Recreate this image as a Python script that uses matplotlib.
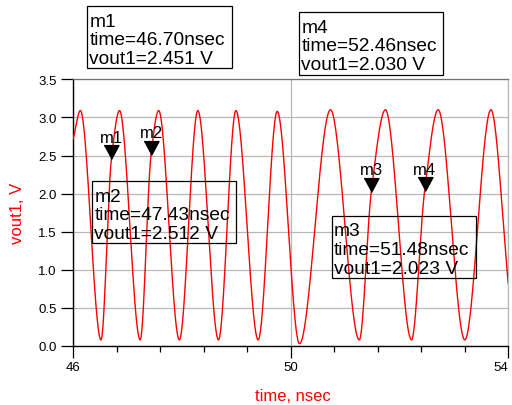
"""vout1 transient with four markers (ADS-style plot)."""

import matplotlib
matplotlib.use("Agg")
import matplotlib.pyplot as plt
from matplotlib.patches import Rectangle
from matplotlib.ticker import MultipleLocator, FormatStrFormatter
import numpy as np

plt.rcParams["font.family"] = ["Liberation Sans", "DejaVu Sans"]

# ------------------------------------------------------------------
# Data: curve key points (edges, peaks, troughs, markers)
# ------------------------------------------------------------------
curve_t = [46.00, 46.13, 46.51, 46.70, 46.85, 47.23, 47.43, 47.57, 47.95, 48.29,
           48.67, 48.99, 49.40, 49.75, 50.16, 50.73, 51.26, 51.48, 51.74, 52.22,
           52.46, 52.71, 53.20, 53.68, 54.00]
curve_v = [2.72, 3.09, 0.08, 2.451, 3.09, 0.08, 2.512, 3.09, 0.08, 3.09,
           0.08, 3.09, 0.08, 3.08, 0.03, 3.10, 0.08, 2.023, 3.10, 0.08,
           2.030, 3.10, 0.08, 3.10, 0.82]

marker_names = ["m1", "m2", "m3", "m4"]
marker_t = [46.70, 47.43, 51.48, 52.46]
marker_v = [2.451, 2.512, 2.023, 2.030]

# readout boxes (left, top, right, bottom) in figure pixels
box_px = {"m1": (87.3, 7.3, 231.7, 69.3),
          "m4": (299.3, 13.3, 443.3, 75.7),
          "m2": (92.3, 182.3, 236.0, 244.0),
          "m3": (331.7, 216.7, 476.0, 279.3)}

W, H = 512, 406


def smooth_path(x, y, n=4000):
    """Monotone cubic (PCHIP) path through the read points."""
    x = np.asarray(x, float)
    y = np.asarray(y, float)
    h = np.diff(x)
    d = np.diff(y) / h
    m = np.zeros_like(y)
    for k in range(1, len(x) - 1):
        if d[k - 1] * d[k] > 0:
            w1 = 2 * h[k] + h[k - 1]
            w2 = h[k] + 2 * h[k - 1]
            m[k] = (w1 + w2) / (w1 / d[k - 1] + w2 / d[k])
    m[0], m[-1] = d[0], d[-1]
    xs = np.linspace(x[0], x[-1], n)
    i = np.clip(np.searchsorted(x, xs, side="right") - 1, 0, len(h) - 1)
    s = (xs - x[i]) / h[i]
    h00 = 2 * s**3 - 3 * s**2 + 1
    h10 = s**3 - 2 * s**2 + s
    h01 = -2 * s**3 + 3 * s**2
    h11 = s**3 - s**2
    ys = h00 * y[i] + h10 * h[i] * m[i] + h01 * y[i + 1] + h11 * h[i] * m[i + 1]
    return xs, ys


# ------------------------------------------------------------------
# Plot
# ------------------------------------------------------------------
fig = plt.figure(figsize=(W / 100, H / 100), dpi=100)
ax = fig.add_axes([73.3 / W, 1 - 347 / H, (508.3 - 73.3) / W, (347 - 80.3) / H])

xs, ys = smooth_path(curve_t, curve_v)
ax.plot(xs, ys, color="#ff0000", lw=1.0, zorder=3)

ax.set_xlim(46, 54)
ax.set_ylim(0, 3.5)
ax.set_xticks([46, 50, 54])
ax.xaxis.set_minor_locator(MultipleLocator(0.8, offset=0.4))
ax.yaxis.set_major_locator(MultipleLocator(0.5))
ax.yaxis.set_major_formatter(FormatStrFormatter("%.1f"))
ax.tick_params(which="major", direction="out", length=8.6, width=0.9,
               labelsize=9.5, pad=2.5)
ax.tick_params(which="minor", direction="out", length=4.3, width=0.9)
ax.tick_params(axis="y", pad=3.5)
ax.grid(True, which="major", color="#b8b8b8", lw=0.9)
# keep the last x label inside the figure
ax.get_xticklabels()[-1].set_horizontalalignment("right")

for s in ("left", "bottom"):
    ax.spines[s].set_color("black")
    ax.spines[s].set_linewidth(1.0)
ax.spines["top"].set_color("#707070")
ax.spines["right"].set_color("#b8b8b8")
for s in ("top", "right"):
    ax.spines[s].set_linewidth(0.9)

ax.text(0.505, -0.186, "time, nsec", color="#ff0000", fontsize=12,
        ha="center", va="center", transform=ax.transAxes)
ax.text(-0.129, 0.5, "vout1, V", color="#ff0000", fontsize=12, rotation=90,
        ha="center", va="center", transform=ax.transAxes)

# marker triangles (tip on the curve) and names
tri = [(-0.535, 1.0), (0.535, 1.0), (0.0, 0.0)]
ax.plot(marker_t, marker_v, ls="none", marker=tri, markersize=20,
        color="black", zorder=4, clip_on=False)
for name, t, v in zip(marker_names, marker_t, marker_v):
    ax.annotate(name, xy=(t, v), xytext=(0, 12.5), textcoords="offset points",
                ha="center", va="baseline", fontsize=12, zorder=5)

# readout boxes
for name, t, v in zip(marker_names, marker_t, marker_v):
    x0, y0, x1, y1 = box_px[name]
    fig.add_artist(Rectangle((x0 / W, 1 - y1 / H), (x1 - x0) / W, (y1 - y0) / H,
                             transform=fig.transFigure, fill=False,
                             edgecolor="black", lw=0.9))
    lines = [name, f"time={t:.2f}nsec", f"vout1={v:.3f} V"]
    for k, txt in enumerate(lines):
        fig.text((x0 + 2) / W, 1 - (y0 + 19.4 + 18.7 * k) / H, txt,
                 fontsize=13.8, ha="left", va="baseline")

fig.savefig("out.png", dpi=100)
